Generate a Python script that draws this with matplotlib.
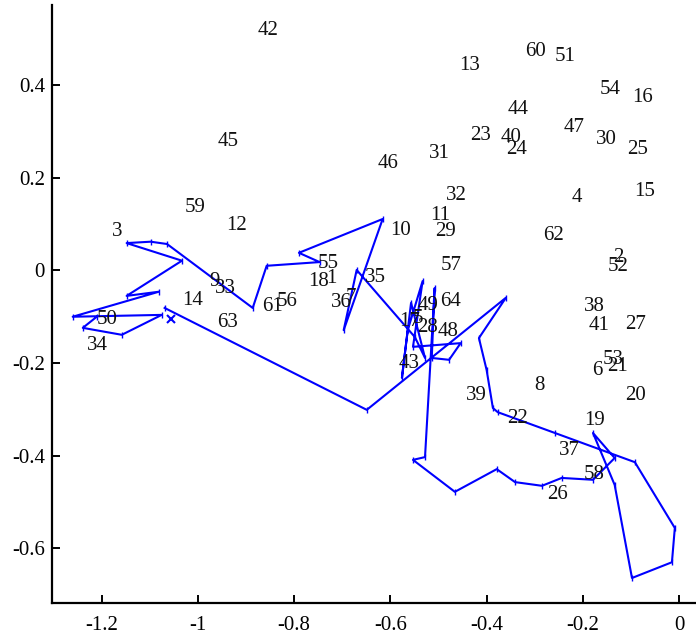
import matplotlib
matplotlib.use('Agg')
import matplotlib.pyplot as plt

plt.rcParams['font.family'] = ['Liberation Serif', 'DejaVu Serif']
plt.rcParams['axes.unicode_minus'] = False

# trajectory (in order)
path_x = [-1.069, -0.649, -0.360, -0.416, -0.400, -0.387, -0.377, -0.258, -0.092, -0.009,
          -0.015, -0.098, -0.134, -0.179, -0.134, -0.179, -0.244, -0.285, -0.341, -0.379,
          -0.466, -0.553, -0.528, -0.508, -0.514, -0.478, -0.454, -0.553, -0.533, -0.564,
          -0.576, -0.557, -0.528, -0.549, -0.670, -0.697, -0.616, -0.790, -0.747, -0.857,
          -0.886, -1.064, -1.098, -1.148, -1.033, -1.148, -1.081, -1.260, -1.075, -1.158,
          -1.239, -1.210]
path_y = [-0.081, -0.301, -0.059, -0.146, -0.215, -0.297, -0.306, -0.351, -0.414, -0.556,
          -0.630, -0.664, -0.463, -0.351, -0.405, -0.452, -0.448, -0.465, -0.457, -0.429,
          -0.478, -0.409, -0.403, -0.038, -0.189, -0.193, -0.157, -0.165, -0.023, -0.129,
          -0.232, -0.070, -0.189, -0.144, 0.001, -0.129, 0.111, 0.038, 0.018, 0.010,
          -0.081, 0.057, 0.062, 0.059, 0.021, -0.055, -0.046, -0.100, -0.096, -0.139,
          -0.124, -0.100]
start_x = -1.056
start_y = -0.105

# point labels
labels = ['42', '13', '60', '51', '54', '16', '44', '47', '23', '40', '30', '24', '25', '31',
          '46', '45', '15', '4', '32', '11', '10', '29', '62', '59', '12', '3', '2', '52',
          '57', '55', '18', '1', '35', '36', '7', '9', '33', '14', '61', '56', '63', '50',
          '34', '49', '64', '17', '5', '28', '48', '43', '39', '8', '22', '19', '37', '58',
          '26', '38', '41', '27', '53', '6', '21', '20']
lab_x = [-0.855, -0.435, -0.298, -0.237, -0.144, -0.077, -0.335, -0.219, -0.412, -0.350,
         -0.152, -0.337, -0.086, -0.499, -0.605, -0.938, -0.071, -0.213, -0.462, -0.497,
         -0.578, -0.485, -0.262, -1.006, -0.919, -1.168, -0.127, -0.127, -0.474, -0.730,
         -0.749, -0.722, -0.632, -0.701, -0.682, -0.965, -0.942, -1.011, -0.844, -0.815,
         -0.938, -1.189, -1.208, -0.522, -0.474, -0.560, -0.543, -0.522, -0.481, -0.562,
         -0.422, -0.291, -0.335, -0.175, -0.227, -0.177, -0.252, -0.177, -0.167, -0.090,
         -0.138, -0.169, -0.129, -0.090]
lab_y = [0.519, 0.442, 0.472, 0.461, 0.390, 0.373, 0.347, 0.308, 0.292, 0.286,
         0.282, 0.260, 0.260, 0.252, 0.230, 0.278, 0.170, 0.157, 0.161, 0.118,
         0.087, 0.083, 0.075, 0.135, 0.096, 0.083, 0.027, 0.008, 0.010, 0.016,
         -0.025, -0.018, -0.016, -0.070, -0.059, -0.025, -0.038, -0.066, -0.077, -0.068,
         -0.113, -0.107, -0.163, -0.075, -0.068, -0.111, -0.103, -0.124, -0.131, -0.202,
         -0.271, -0.249, -0.319, -0.323, -0.388, -0.440, -0.483, -0.077, -0.118, -0.116,
         -0.193, -0.215, -0.208, -0.271]

xticks = [-1.2, -1, -0.8, -0.6, -0.4, -0.2, 0]
xtick_labels = ['-1.2', '-1', '-0.8', '-0.6', '-0.4', '-0.2', '0']
yticks = [-0.6, -0.4, -0.2, 0, 0.2, 0.4]
ytick_labels = ['-0.6', '-0.4', '-0.2', '0', '0.2', '0.4']

fig = plt.figure(figsize=(6.96, 6.35), dpi=100)
ax = fig.add_axes([52 / 696, 32 / 635, 644 / 696, 598 / 635])

for t, x, y in zip(labels, lab_x, lab_y):
    ax.text(x, y, t, ha='center', va='center', fontsize=15, color='#111111')

ax.plot(path_x, path_y, color='#0000ff', lw=1.5, marker='|', ms=4, mew=1.0)
ax.plot(start_x, start_y, 'x', color='#0000ff', ms=6, mew=1.5)

ax.set_xlim(-1.303, 0.035)
ax.set_ylim(-0.718, 0.573)
ax.set_xticks(xticks)
ax.set_xticklabels(xtick_labels)
ax.set_yticks(yticks)
ax.set_yticklabels(ytick_labels)
ax.spines['top'].set_visible(False)
ax.spines['right'].set_visible(False)
ax.spines['left'].set_linewidth(1.6)
ax.spines['bottom'].set_linewidth(1.6)
ax.tick_params(direction='in', length=6, width=1.4, labelsize=15)
ax.tick_params(axis='x', pad=9.5)
ax.tick_params(axis='y', pad=5)

fig.savefig('out.png', dpi=100)
